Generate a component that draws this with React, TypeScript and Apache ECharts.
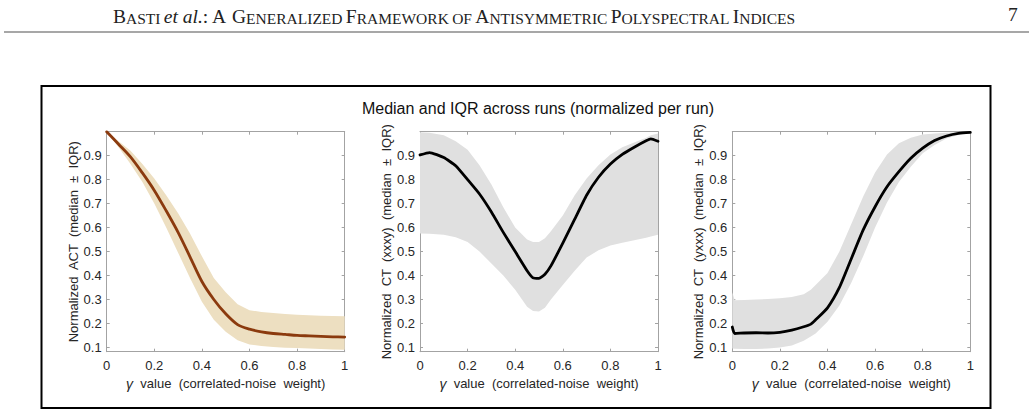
import React, { useEffect, useRef } from "react";
import * as echarts from "echarts";

// Panel 1: normalized ACT
const gammaAct = [0, 0.05, 0.1, 0.15, 0.2, 0.25, 0.3, 0.35, 0.4, 0.45, 0.5, 0.55, 0.6, 0.65, 0.7, 0.75, 0.8, 0.85, 0.9, 0.95, 1.0];
const actMedian = [1.0, 0.948, 0.895, 0.828, 0.755, 0.67, 0.58, 0.478, 0.375, 0.3, 0.24, 0.195, 0.176, 0.165, 0.158, 0.154, 0.15, 0.148, 0.146, 0.144, 0.143];
const actLower = [1.0, 0.935, 0.865, 0.79, 0.7, 0.6, 0.495, 0.39, 0.29, 0.215, 0.165, 0.13, 0.112, 0.106, 0.102, 0.099, 0.097, 0.095, 0.093, 0.091, 0.09];
const actUpper = [1.0, 0.96, 0.92, 0.865, 0.805, 0.735, 0.66, 0.575, 0.48, 0.39, 0.33, 0.28, 0.255, 0.248, 0.243, 0.239, 0.236, 0.234, 0.232, 0.231, 0.23];

// Panel 2: normalized CT (xxxy)
const gammaXxxy = [0, 0.04, 0.1, 0.15, 0.2, 0.25, 0.3, 0.35, 0.4, 0.45, 0.475, 0.5, 0.525, 0.55, 0.6, 0.65, 0.7, 0.75, 0.8, 0.85, 0.9, 0.95, 0.97, 1.0];
const xxxyMedian = [0.903, 0.913, 0.892, 0.858, 0.8, 0.74, 0.665, 0.58, 0.5, 0.42, 0.39, 0.388, 0.405, 0.44, 0.535, 0.635, 0.735, 0.81, 0.865, 0.905, 0.935, 0.962, 0.97, 0.96];
const xxxyLower = [0.575, 0.574, 0.57, 0.56, 0.54, 0.5, 0.45, 0.4, 0.34, 0.27, 0.252, 0.25, 0.265, 0.3, 0.36, 0.42, 0.475, 0.505, 0.525, 0.537, 0.547, 0.558, 0.563, 0.57];
const xxxyUpper = [0.998, 0.996, 0.985, 0.96, 0.925, 0.86, 0.78, 0.685, 0.6, 0.55, 0.54, 0.54, 0.555, 0.585, 0.65, 0.735, 0.805, 0.86, 0.905, 0.935, 0.955, 0.975, 0.985, 0.993];

// Panel 3: normalized CT (yxxx)
const gammaYxxx = [0, 0.01, 0.05, 0.1, 0.15, 0.2, 0.25, 0.3, 0.33, 0.35, 0.4, 0.45, 0.5, 0.55, 0.6, 0.65, 0.7, 0.75, 0.8, 0.85, 0.9, 0.95, 1.0];
const yxxxMedian = [0.185, 0.158, 0.16, 0.161, 0.16, 0.163, 0.172, 0.186, 0.197, 0.215, 0.265, 0.35, 0.47, 0.59, 0.687, 0.77, 0.833, 0.889, 0.931, 0.963, 0.982, 0.993, 0.997];
const yxxxLower = [0.095, 0.094, 0.093, 0.093, 0.095, 0.1, 0.108, 0.128, 0.145, 0.158, 0.207, 0.275, 0.37, 0.48, 0.6, 0.705, 0.79, 0.854, 0.91, 0.945, 0.972, 0.986, 0.993];
const yxxxUpper = [0.33, 0.297, 0.298, 0.3, 0.302, 0.305, 0.31, 0.322, 0.34, 0.36, 0.41, 0.5, 0.615, 0.73, 0.83, 0.905, 0.952, 0.975, 0.988, 0.993, 0.996, 0.998, 0.998];

const yTicks = [0.1, 0.2, 0.3, 0.4, 0.5, 0.6, 0.7, 0.8, 0.9];
const yMin = 0.082;
const yMax = 1;

const yNames = [
  "Normalized  ACT  (median  \u00b1  IQR)",
  "Normalized  CT  (xxxy)  (median  \u00b1  IQR)",
  "Normalized  CT  (yxxx)  (median  \u00b1  IQR)",
];
const xName = "{g|\u03b3}{n|  value  (correlated-noise  weight)}";
const suptitle = "Median and IQR across runs (normalized per run)";

const AXIS_GRAY = "#a3a3a3";
const LABEL = "#262626";
const SANS = "Liberation Sans, Arial, sans-serif";
const SERIF = "Liberation Serif, Times New Roman, serif";

const panels = [
  { left: 106.7, gamma: gammaAct, median: actMedian, lower: actLower, upper: actUpper, line: "#8b3a0e", band: "#eddfc1", smooth: 0.3 },
  { left: 420, gamma: gammaXxxy, median: xxxyMedian, lower: xxxyLower, upper: xxxyUpper, line: "#000000", band: "#e0e0e0", smooth: 0.15 },
  { left: 732.3, gamma: gammaYxxx, median: yxxxMedian, lower: yxxxLower, upper: yxxxUpper, line: "#000000", band: "#e0e0e0", smooth: 0.2 },
];

const GRID_TOP = 131.7;
const GRID_W = 238;
const GRID_H = 220;

function buildOption() {
  const grid: any[] = [];
  const xAxis: any[] = [];
  const yAxis: any[] = [];
  const series: any[] = [];

  panels.forEach((p, i) => {
    grid.push({ left: p.left, top: GRID_TOP, width: GRID_W, height: GRID_H, show: false });
    const tick = { inside: true, length: 3, lineStyle: { color: AXIS_GRAY, width: 1 } };
    const line = { onZero: false, lineStyle: { color: AXIS_GRAY, width: 1 } };
    xAxis.push({
      type: "value", gridIndex: i, min: 0, max: 1, interval: 0.2, position: "bottom",
      axisLine: line, axisTick: tick, splitLine: { show: false },
      axisLabel: { color: LABEL, fontSize: 13, fontFamily: SANS, margin: 7 },
      name: xName, nameLocation: "middle", nameGap: 22,
      nameTextStyle: {
        color: LABEL, fontSize: 13, fontFamily: SANS,
        rich: {
          g: { fontStyle: "italic", fontSize: 14, fontFamily: SANS, color: LABEL },
          n: { fontSize: 13, fontFamily: SANS, color: LABEL },
        },
      },
    });
    xAxis.push({
      type: "value", gridIndex: i, min: 0, max: 1, interval: 0.2, position: "top",
      axisLine: line, axisTick: tick, splitLine: { show: false }, axisLabel: { show: false },
    });
    yAxis.push({
      type: "value", gridIndex: i, min: yMin, max: yMax, position: "left",
      axisLine: line, axisTick: { ...tick, customValues: yTicks }, splitLine: { show: false },
      axisLabel: { color: LABEL, fontSize: 13, fontFamily: SANS, margin: 5, customValues: yTicks },
      name: yNames[i], nameLocation: "middle", nameGap: 27,
      nameTextStyle: { color: LABEL, fontSize: 13, fontFamily: SANS },
    });
    yAxis.push({
      type: "value", gridIndex: i, min: yMin, max: yMax, position: "right",
      axisLine: line, axisTick: { ...tick, customValues: yTicks }, splitLine: { show: false },
      axisLabel: { show: false },
    });

    const xi = 2 * i;
    // IQR band: polygon along the upper edge, back along the lower edge
    series.push({
      type: "custom", xAxisIndex: xi, yAxisIndex: xi, silent: true, z: 1,
      data: [0],
      renderItem: (_params: any, api: any) => {
        const pts: number[][] = [];
        for (let k = 0; k < p.gamma.length; k++) pts.push(api.coord([p.gamma[k], p.upper[k]]));
        for (let k = p.gamma.length - 1; k >= 0; k--) pts.push(api.coord([p.gamma[k], p.lower[k]]));
        return { type: "polygon", shape: { points: pts }, style: { fill: p.band, stroke: "none" } };
      },
    });
    series.push({
      type: "line", xAxisIndex: xi, yAxisIndex: xi, symbol: "none", silent: true,
      smooth: p.smooth,
      lineStyle: { color: p.line, width: 2.8, join: "round", cap: "round" },
      data: p.gamma.map((g, k) => [g, p.median[k]]),
      z: 5,
    });
  });

  const header =
    "{c|B}{s|ASTI} {i|et al.}{c|: A }{c|G}{s|ENERALIZED} {c|F}{s|RAMEWORK} {s|OF} {c|A}{s|NTISYMMETRIC} {c|P}{s|OLYSPECTRAL} {c|I}{s|NDICES}";
  const cap = { fontFamily: SERIF, fontSize: 19.5, fill: "#222", verticalAlign: "bottom", lineHeight: 22 };
  const small = { fontFamily: SERIF, fontSize: 15.5, fill: "#222", verticalAlign: "bottom", lineHeight: 22 };

  const graphic: any[] = [
    {
      type: "text", x: 113, y: 4,
      style: {
        text: header, fill: "#222",
        rich: { c: cap, s: small, i: { ...cap, fontStyle: "italic" } },
      },
    },
    { type: "text", x: 1008, y: 4, style: { text: "7", font: "19.5px " + SERIF, fill: "#222" } },
    { type: "line", shape: { x1: 4, y1: 32, x2: 1029, y2: 32 }, style: { stroke: "#8a8a8a", lineWidth: 1.6 } },
    {
      type: "rect", shape: { x: 41.5, y: 86, width: 949, height: 322 },
      style: { fill: "none", stroke: "#000", lineWidth: 2 },
    },
    {
      type: "text", x: 538, y: 108,
      style: { text: suptitle, font: "16px " + SANS, fill: "#111", align: "center", verticalAlign: "middle" },
    },
  ];

  return { animation: false, backgroundColor: "#ffffff", grid, xAxis, yAxis, series, graphic };
}

export default function App() {
  const ref = useRef<HTMLDivElement>(null);
  useEffect(() => {
    if (!ref.current) return;
    const chart = echarts.init(ref.current, null, { renderer: "svg" });
    chart.setOption(buildOption());
    return () => chart.dispose();
  }, []);
  return (
    <div
      ref={ref}
      style={{ position: "fixed", left: 0, top: 0, width: 1033, height: 416, background: "#fff" }}
    />
  );
}
